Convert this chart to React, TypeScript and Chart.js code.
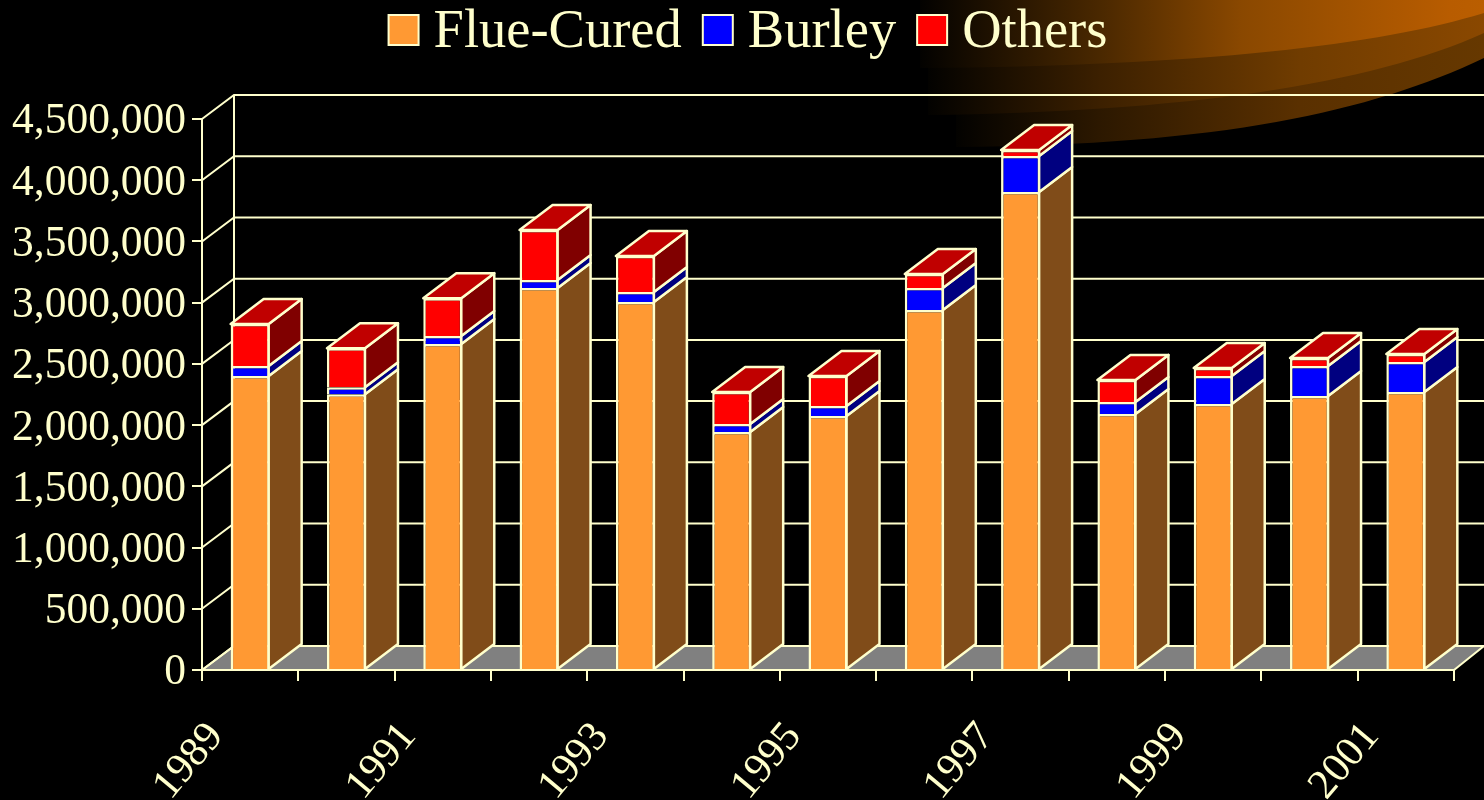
import React, { useEffect, useRef } from "react";
import { Chart, registerables } from "chart.js";

Chart.register(...registerables);

const years = ["1989","1990","1991","1992","1993","1994","1995","1996","1997","1998","1999","2000","2001"];
const flueCured = [2401000,2253000,2662000,3120000,3005000,1944000,2074000,2940000,3904000,2091000,2172000,2238000,2270000];
const burley = [82000,57000,65000,65000,82000,65000,82000,180000,294000,98000,229000,245000,245000];
const others = [343000,318000,310000,408000,294000,261000,245000,114000,49000,180000,65000,65000,65000];

const INK = "#FFFFCC";
const SERIF = "'Liberation Serif', 'Times New Roman', serif";
const DX = 33;
const DY = 25;
const WALL_DX = 32;
const WALL_DY = 24;

const sideColors = ["#804C19", "#000080", "#800000"];
const TOP_COLOR = "#C00000";

function swoosh(ctx: CanvasRenderingContext2D) {
  const layer = (
    x0: number, y0: number, c1x: number, c1y: number, c2x: number, c2y: number, yEnd: number,
    stops: [number, string][],
  ) => {
    const g = ctx.createLinearGradient(x0, 0, 1484, 0);
    stops.forEach(([o, c]) => g.addColorStop(o, c));
    ctx.fillStyle = g;
    ctx.beginPath();
    ctx.moveTo(x0, 0);
    ctx.lineTo(1484, 0);
    ctx.lineTo(1484, yEnd);
    ctx.bezierCurveTo(c2x, c2y, c1x, c1y, x0, y0);
    ctx.closePath();
    ctx.fill();
  };
  layer(956, 147, 1220, 145, 1370, 112, 58, [[0, "#030200"], [0.27, "#2C1800"], [0.65, "#5A3000"], [1, "#663800"]]);
  layer(928, 115, 1180, 112, 1370, 85, 33, [[0, "#030200"], [0.31, "#3C2000"], [0.67, "#703C00"], [1, "#8A4800"]]);
  layer(920, 68, 1200, 66, 1380, 45, 13, [[0, "#030200"], [0.32, "#4A2800"], [0.57, "#8A4800"], [0.745, "#A05200"], [0.94, "#B85C00"], [1, "#BA5E00"]]);
}

const scenePlugin = {
  id: "scene3d",
  beforeDraw(chart: any) {
    const { ctx, chartArea, scales } = chart;
    const { left, right, bottom } = chartArea;
    const y = scales.y;
    const w = chart.width;
    ctx.save();
    ctx.fillStyle = "#000000";
    ctx.fillRect(0, 0, w, chart.height);
    swoosh(ctx);

    // floor
    ctx.beginPath();
    ctx.moveTo(left, bottom);
    ctx.lineTo(left + WALL_DX, bottom - WALL_DY);
    ctx.lineTo(w, bottom - WALL_DY);
    ctx.lineTo(right, bottom);
    ctx.closePath();
    ctx.fillStyle = "#808080";
    ctx.fill();
    ctx.strokeStyle = INK;
    ctx.lineWidth = 2;
    ctx.stroke();

    // walls
    const topBack = y.getPixelForValue(y.max) - WALL_DY;
    ctx.beginPath();
    ctx.moveTo(left + WALL_DX, topBack);
    ctx.lineTo(left + WALL_DX, bottom - WALL_DY);
    y.ticks.forEach((t: any) => {
      const py = y.getPixelForValue(t.value);
      ctx.moveTo(left, py);
      ctx.lineTo(left + WALL_DX, py - WALL_DY);
      ctx.lineTo(w, py - WALL_DY);
    });
    ctx.stroke();
    ctx.restore();
  },
  beforeDatasetsDraw(chart: any) {
    const { ctx } = chart;
    ctx.save();
    ctx.strokeStyle = INK;
    ctx.lineWidth = 2.5;
    ctx.lineJoin = "round";
    const n = chart.data.datasets.length;
    chart.data.datasets.forEach((_: any, di: number) => {
      const meta = chart.getDatasetMeta(di);
      meta.data.forEach((bar: any) => {
        const r = bar.x + bar.width / 2 - 1;
        const l = bar.x - bar.width / 2;
        ctx.beginPath();
        ctx.moveTo(r, bar.y);
        ctx.lineTo(r + DX, bar.y - DY);
        ctx.lineTo(r + DX, bar.base - DY);
        ctx.lineTo(r, bar.base);
        ctx.closePath();
        ctx.fillStyle = sideColors[di];
        ctx.fill();
        ctx.stroke();
        if (di === n - 1) {
          ctx.beginPath();
          ctx.moveTo(l, bar.y);
          ctx.lineTo(l + DX, bar.y - DY);
          ctx.lineTo(r + DX, bar.y - DY);
          ctx.lineTo(r, bar.y);
          ctx.closePath();
          ctx.fillStyle = TOP_COLOR;
          ctx.fill();
          ctx.stroke();
        }
      });
    });
    ctx.restore();
  },
  afterDraw(chart: any) {
    // legend row: swatch, tight gap, label, centred on the page
    const { ctx } = chart;
    const BOX = 30;
    const GAP = 15;
    const ITEM_GAP = 21;
    const items = chart.data.datasets;
    ctx.save();
    ctx.font = `54.5px ${SERIF}`;
    ctx.textBaseline = "alphabetic";
    ctx.textAlign = "left";
    const widths = items.map((d: any) => ctx.measureText(d.label).width);
    const total =
      widths.reduce((a: number, b: number) => a + b, 0) +
      items.length * (BOX + GAP) +
      (items.length - 1) * ITEM_GAP;
    let x = 748 - total / 2;
    items.forEach((d: any, i: number) => {
      ctx.fillStyle = d.backgroundColor;
      ctx.fillRect(x, 15, BOX, BOX);
      ctx.strokeStyle = INK;
      ctx.lineWidth = 2;
      ctx.strokeRect(x, 15, BOX, BOX);
      ctx.fillStyle = INK;
      ctx.fillText(d.label, x + BOX + GAP, 47);
      x += BOX + GAP + widths[i] + ITEM_GAP;
    });
    ctx.restore();
  },
};

export default function App() {
  const ref = useRef<HTMLCanvasElement | null>(null);
  useEffect(() => {
    if (!ref.current) return;
    const bar = {
      borderColor: INK,
      borderWidth: 2.5,
      barPercentage: 0.405,
      categoryPercentage: 1,
    };
    const chart = new Chart(ref.current, {
      type: "bar",
      data: {
        labels: years,
        datasets: [
          { label: "Flue-Cured", data: flueCured, backgroundColor: "#FF9933", ...bar },
          { label: "Burley", data: burley, backgroundColor: "#0000FF", ...bar },
          { label: "Others", data: others, backgroundColor: "#FF0000", ...bar },
        ],
      },
      options: {
        animation: false,
        responsive: false,
        layout: { padding: { top: 119, right: 30, left: 0, bottom: 0 } },
        plugins: { legend: { display: false }, tooltip: { enabled: false } },
        scales: {
          x: {
            stacked: true,
            afterFit(s: any) { s.height = 130; },
            grid: { drawOnChartArea: false, color: INK, lineWidth: 2, tickLength: 11, tickColor: INK },
            border: { color: INK, width: 2 },
            ticks: {
              color: INK,
              autoSkip: false,
              minRotation: 50,
              maxRotation: 50,
              padding: 32,
              labelOffset: -34,
              font: { family: SERIF, size: 42 },
              callback(this: any, v: any, i: number) {
                return i % 2 === 0 ? this.getLabelForValue(v) : "";
              },
            },
          },
          y: {
            stacked: true,
            min: 0,
            max: 4500000,
            afterFit(s: any) { s.width = 202; },
            grid: { drawOnChartArea: false, color: INK, lineWidth: 2, tickLength: 10, tickColor: INK },
            border: { color: INK, width: 2 },
            ticks: {
              color: INK,
              stepSize: 500000,
              padding: 6,
              labelOffset: 3,
              font: { family: SERIF, size: 43.5 },
              callback: (v: any) => Number(v).toLocaleString("en-US"),
            },
          },
        },
      },
      plugins: [scenePlugin],
    } as any);
    return () => chart.destroy();
  }, []);
  return (
    <div style={{ position: "fixed", left: 0, top: 0, width: 1484, height: 800, background: "#000" }}>
      <canvas ref={ref} width={1484} height={800} style={{ display: "block" }} />
    </div>
  );
}
